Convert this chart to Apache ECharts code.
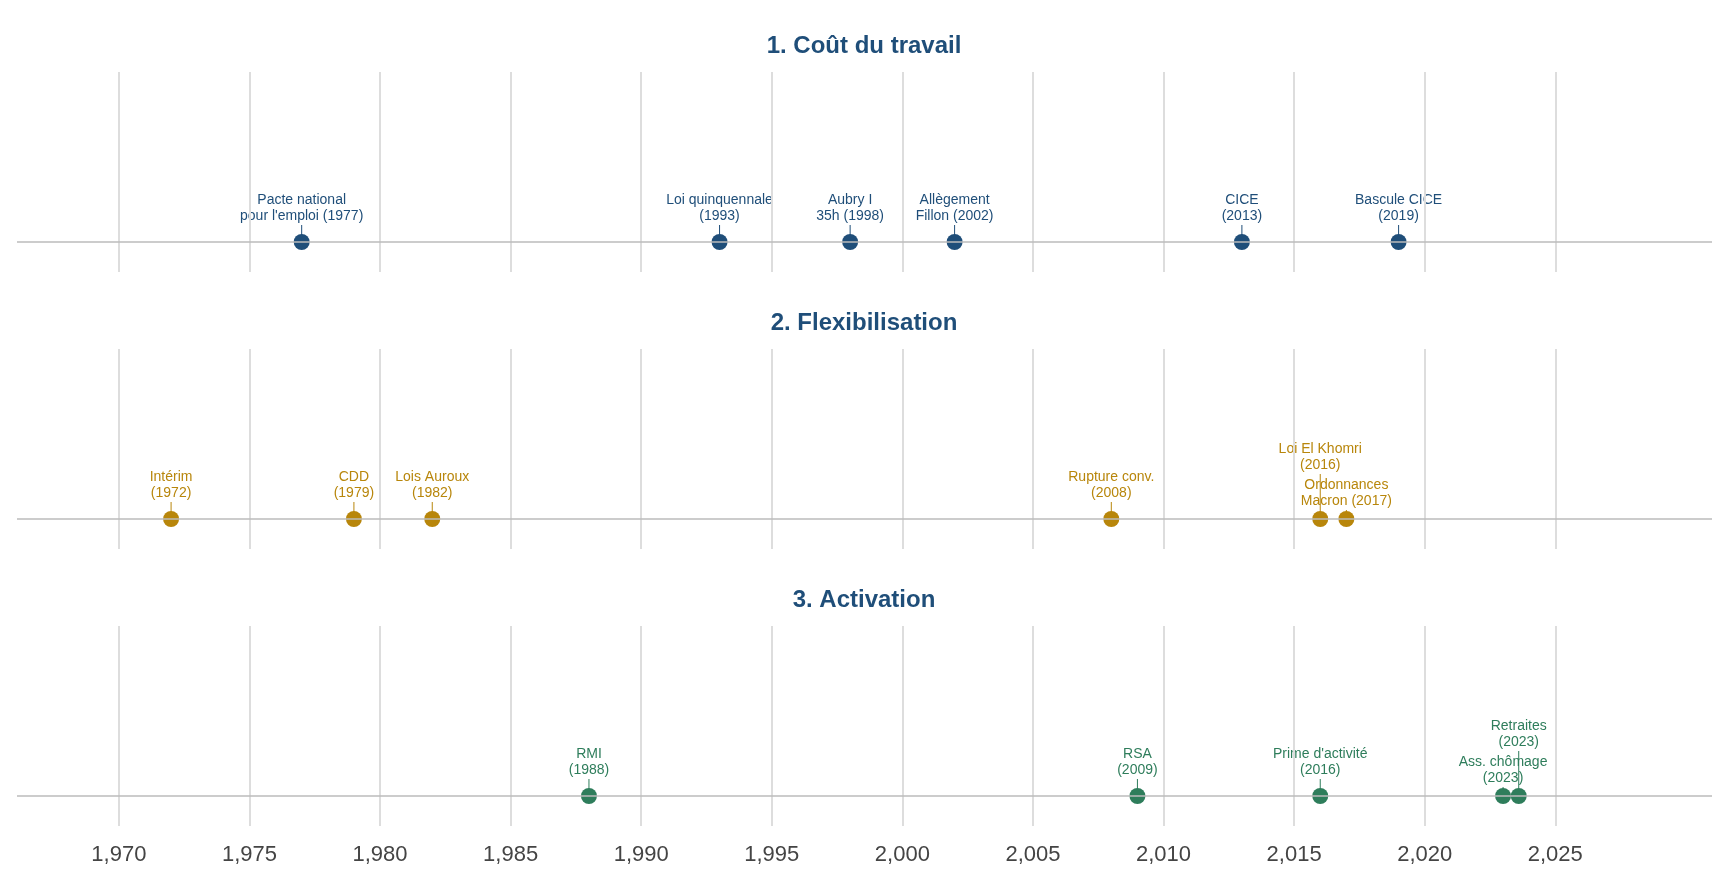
<!DOCTYPE html>
<html>
<head>
<meta charset="utf-8">
<script src="https://cdn.jsdelivr.net/npm/echarts@6/dist/echarts.min.js"></script>
<style>html,body{margin:0;padding:0;background:#fff}#chart{width:1728px;height:883px}</style>
</head>
<body>
<div id="chart"></div>
<script>
var panelTitles = ['1. Coût du travail', '2. Flexibilisation', '3. Activation'];
var panelColors = ['#1f4e79', '#b8860b', '#2e7d5b'];
var tickYears = [1970, 1975, 1980, 1985, 1990, 1995, 2000, 2005, 2010, 2015, 2020, 2025];

// label height above the point: 'n' normal, 'h' high, 'l' low
var coutYears = [1977, 1993, 1998, 2002, 2013, 2019];
var coutLabels = ['Pacte national\npour l\'emploi (1977)', 'Loi quinquennale\n(1993)', 'Aubry I\n35h (1998)', 'Allègement\nFillon (2002)', 'CICE\n(2013)', 'Bascule CICE\n(2019)'];
var coutLevels = ['n', 'n', 'n', 'n', 'n', 'n'];

var flexYears = [1972, 1979, 1982, 2008, 2016, 2017];
var flexLabels = ['Intérim\n(1972)', 'CDD\n(1979)', 'Lois Auroux\n(1982)', 'Rupture conv.\n(2008)', 'Loi El Khomri\n(2016)', 'Ordonnances\nMacron (2017)'];
var flexLevels = ['n', 'n', 'n', 'n', 'h', 'l'];

var actYears = [1988, 2009, 2016, 2023, 2023.6];
var actLabels = ['RMI\n(1988)', 'RSA\n(2009)', 'Prime d\'activité\n(2016)', 'Ass. chômage\n(2023)', 'Retraites\n(2023)'];
var actLevels = ['n', 'n', 'n', 'l', 'h'];

var levelValue = { n: 0.085, h: 0.225, l: 0.045 };
var panels = [
  [coutYears, coutLabels, coutLevels],
  [flexYears, flexLabels, flexLevels],
  [actYears, actLabels, actLevels]
];

var chart = echarts.init(document.getElementById('chart'));
var gridTops = [72, 349, 626];
var titleTops = [29, 306, 583];
var font = '"Liberation Sans", Arial, sans-serif';

var option = { animation: false, title: [], grid: [], xAxis: [], yAxis: [], series: [] };

panels.forEach(function (p, i) {
  var color = panelColors[i];
  option.title.push({
    text: panelTitles[i], left: 'center', top: titleTops[i],
    textStyle: { color: '#1f4e79', fontSize: 24, fontWeight: 'bold', fontFamily: font }
  });
  option.grid.push({ left: 17, right: 16, top: gridTops[i], height: 200 });
  option.xAxis.push({
    type: 'value', gridIndex: i, min: 1966.1, max: 2031,
    axisLine: { show: false }, axisTick: { show: false }, splitLine: { show: false },
    axisLabel: {
      show: i === 2, customValues: tickYears, margin: 18,
      color: '#444', fontSize: 22, fontFamily: font
    }
  });
  option.yAxis.push({ type: 'value', gridIndex: i, min: -0.15, max: 0.85, show: false });

  var items = p[0].map(function (y, k) { return [y, levelValue[p[2][k]], p[1][k]]; });

  option.series.push({
    type: 'scatter', xAxisIndex: i, yAxisIndex: i, silent: true,
    data: [],
    markLine: {
      silent: true, symbol: 'none', label: { show: false },
      data: tickYears.map(function (t) { return { xAxis: t, lineStyle: { color: '#dddddd', width: 2, type: 'solid' } }; })
        .concat([{ yAxis: 0, lineStyle: { color: '#bbbbbb', width: 1.5, type: 'solid' } }])
    }
  });
  option.series.push({
    type: 'custom', xAxisIndex: i, yAxisIndex: i, silent: true, z: 3,
    data: items,
    renderItem: function (params, api) {
      var p0 = api.coord([api.value(0), 0]);
      var p1 = api.coord([api.value(0), api.value(1)]);
      return {
        type: 'group', children: [
          { type: 'line', shape: { x1: p0[0], y1: p0[1], x2: p1[0], y2: p1[1] }, style: { stroke: color, lineWidth: 1 } },
          { type: 'text', style: {
            text: items[params.dataIndex][2], x: p1[0], y: p1[1] - 1,
            align: 'center', verticalAlign: 'bottom', fill: color,
            font: '14px ' + font, lineHeight: 16
          } }
        ]
      };
    }
  });
  option.series.push({
    type: 'scatter', xAxisIndex: i, yAxisIndex: i, silent: true, z: 4,
    symbolSize: 16, itemStyle: { color: color, opacity: 1 },
    data: p[0].map(function (y) { return [y, 0]; })
  });
});

chart.setOption(option);
</script>
</body>
</html>
